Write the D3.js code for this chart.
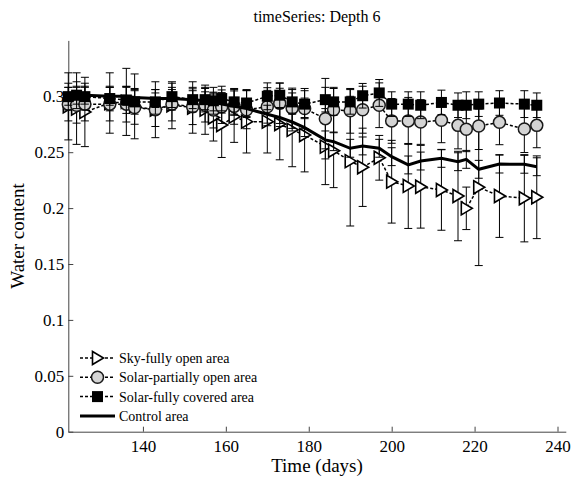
<!DOCTYPE html>
<html><head><meta charset="utf-8">
<script src="https://cdn.jsdelivr.net/npm/d3@7"></script>
<style>body{margin:0;background:#fff}svg{display:block}svg text{font-family:"Times New Roman","Liberation Serif","DejaVu Serif",serif !important;fill:#000}</style>
</head><body><svg id="c" width="572" height="478"></svg>
<script>
const days = [122,124,126,132,136,138,143,147,152,155,157,159,162,165,170,173,176,179,184,186,190,193,197,200,204,207,212,216,218,221,226,232,235];
const skyOpen = [0.291,0.289,0.286,0.294,0.295,0.291,0.288,0.292,0.290,0.288,0.281,0.2743,0.2818,0.2773,0.2773,0.2752,0.270,0.2654,0.255,0.2513,0.242,0.2365,0.245,0.2236,0.2198,0.2191,0.2162,0.2108,0.1998,0.2186,0.2108,0.2088,0.2097];
const skyErr = [0.030,0.032,0.031,0.027,0.030,0.029,0.025,0.021,0.023,0.022,0.021,0.029,0.023,0.028,0.028,0.032,0.033,0.033,0.034,0.033,0.058,0.035,0.020,0.037,0.038,0.037,0.036,0.040,0.019,0.070,0.037,0.039,0.037];
const solarPartial = [0.293,0.292,0.293,0.293,0.293,0.290,0.288,0.293,0.2907,0.292,0.2877,0.2907,0.291,0.288,0.2907,0.2937,0.2893,0.289,0.280,0.288,0.287,0.288,0.292,0.278,0.278,0.277,0.2785,0.274,0.2705,0.2734,0.2767,0.2707,0.274];
const partialErr = [0.015,0.016,0.015,0.015,0.016,0.015,0.015,0.015,0.016,0.015,0.016,0.015,0.016,0.017,0.017,0.018,0.018,0.018,0.036,0.020,0.020,0.021,0.020,0.020,0.021,0.020,0.020,0.021,0.020,0.021,0.020,0.021,0.020];
const solarCovered = [0.2997,0.301,0.2997,0.298,0.2967,0.295,0.295,0.2997,0.297,0.297,0.296,0.298,0.295,0.294,0.300,0.301,0.295,0.293,0.297,0.295,0.295,0.3005,0.303,0.293,0.293,0.292,0.2945,0.292,0.292,0.293,0.294,0.293,0.292];
const coveredErr = [0.012,0.012,0.012,0.011,0.012,0.011,0.011,0.012,0.011,0.011,0.012,0.011,0.011,0.012,0.012,0.011,0.011,0.012,0.011,0.012,0.011,0.011,0.012,0.011,0.011,0.012,0.011,0.011,0.012,0.011,0.011,0.012,0.011];
const control = [0.300,0.301,0.301,0.300,0.300,0.299,0.298,0.298,0.297,0.296,0.295,0.293,0.291,0.289,0.284,0.281,0.277,0.272,0.261,0.2594,0.2535,0.2556,0.2535,0.246,0.2386,0.2421,0.2445,0.2415,0.2436,0.2347,0.2394,0.2392,0.237];
const controlErr = [0.008,0.008,0.008,0.008,0.008,0.008,0.008,0.008,0.008,0.008,0.008,0.008,0.008,0.008,0.008,0.008,0.008,0.008,0.008,0.008,0.008,0.008,0.008,0.008,0.008,0.008,0.008,0.008,0.008,0.008,0.008,0.008,0.008];
const xTicks = [140,160,180,200,220,240];
const yTicks = [0,0.05,0.1,0.15,0.2,0.25,0.3];
const yTickLabels = ["0","0.05","0.1","0.15","0.2","0.25","0.3"];
const seriesNames = ["Sky-fully open area","Solar-partially open area","Solar-fully covered area","Control area"];
const titleText = "timeSeries: Depth 6";
const xLabel = "Time (days)";
const yLabel = "Water content";

const FONT = "'Times New Roman','Liberation Serif','DejaVu Serif',serif";
const svg = d3.select("#c");
const x = d3.scaleLinear().domain([122,242]).range([68.3,565.8]);
const y = d3.scaleLinear().domain([0,0.35]).range([431.7,40.4]);

// axes
const ax = svg.append("g").attr("transform","translate(0,431.7)")
  .call(d3.axisBottom(x).tickValues(xTicks).tickSize(-5).tickSizeOuter(0).tickPadding(8));
const ay = svg.append("g").attr("transform","translate(68.3,0)")
  .call(d3.axisLeft(y).tickValues(yTicks).tickFormat((d,i)=>yTickLabels[i]).tickSize(-5).tickSizeOuter(0).tickPadding(4));
[ax,ay].forEach(g=>{
  g.attr("font-family",FONT);
  g.selectAll("path,line").attr("stroke","#444").attr("stroke-width",1);
  g.selectAll("text").attr("font-size",17).attr("fill","#000").attr("font-family",FONT);
});

svg.append("text").attr("x",317).attr("y",22).attr("text-anchor","middle").attr("font-size",16).attr("font-family",FONT).text(titleText);
svg.append("text").attr("x",317).attr("y",472).attr("text-anchor","middle").attr("font-size",19).attr("font-family",FONT).text(xLabel);
svg.append("text").attr("transform","translate(24,236) rotate(-90)").attr("text-anchor","middle").attr("font-size",19).attr("font-family",FONT).text(yLabel);

const tri = "M-5,-6.5L6,0L-5,6.5Z";
function drawMarker(g, type, cx, cy){
  if(type==="tri") g.append("path").attr("d",tri).attr("transform",`translate(${cx},${cy})`).attr("fill","#fff").attr("stroke","#000").attr("stroke-width",1.6);
  else if(type==="circ") g.append("circle").attr("cx",cx).attr("cy",cy).attr("r",6).attr("fill","#d4d4d4").attr("stroke","#1a1a1a").attr("stroke-width",1.5);
  else if(type==="sq") g.append("rect").attr("x",cx-5.5).attr("y",cy-5.5).attr("width",11).attr("height",11).attr("fill","#000");
}
function drawSeries(vals, errs, type, lineStyle){
  const g = svg.append("g");
  const data = days.map((d,i)=>({d, v:vals[i], e:errs[i]}));
  const eb = g.append("g").attr("stroke","#000").attr("stroke-width",1);
  data.forEach(p=>{
    const px = x(p.d), y1 = y(p.v+p.e), y2 = y(p.v-p.e);
    eb.append("line").attr("x1",px).attr("x2",px).attr("y1",y1).attr("y2",y2);
    eb.append("line").attr("x1",px-4).attr("x2",px+4).attr("y1",y1).attr("y2",y1);
    eb.append("line").attr("x1",px-4).attr("x2",px+4).attr("y1",y2).attr("y2",y2);
  });
  const line = d3.line().x(p=>x(p.d)).y(p=>y(p.v));
  g.append("path").datum(data).attr("d",line).attr("fill","none").attr("stroke","#000")
    .attr("stroke-width",lineStyle.w).attr("stroke-dasharray",lineStyle.dash||null);
  if(type) data.forEach(p=>drawMarker(g,type,x(p.d),y(p.v)));
}
drawSeries(skyOpen, skyErr, "tri", {w:1.5, dash:"3,2"});
drawSeries(solarPartial, partialErr, "circ", {w:1.5, dash:"3,2"});
drawSeries(solarCovered, coveredErr, "sq", {w:1.5, dash:"3,2"});
drawSeries(control, controlErr, null, {w:3});

// legend
const types = ["tri","circ","sq",null];
const lg = svg.append("g");
seriesNames.forEach((n,i)=>{
  const ly = 358 + i*19.3;
  lg.append("line").attr("x1",80).attr("x2",115).attr("y1",ly).attr("y2",ly).attr("stroke","#000")
    .attr("stroke-width",types[i]?1.5:3).attr("stroke-dasharray",types[i]?"3,2":null);
  if(types[i]) drawMarker(lg,types[i],97.5,ly);
  lg.append("text").attr("x",119).attr("y",ly).attr("dy","0.35em").attr("font-size",14).attr("font-family",FONT).text(n);
});
</script></body></html>
